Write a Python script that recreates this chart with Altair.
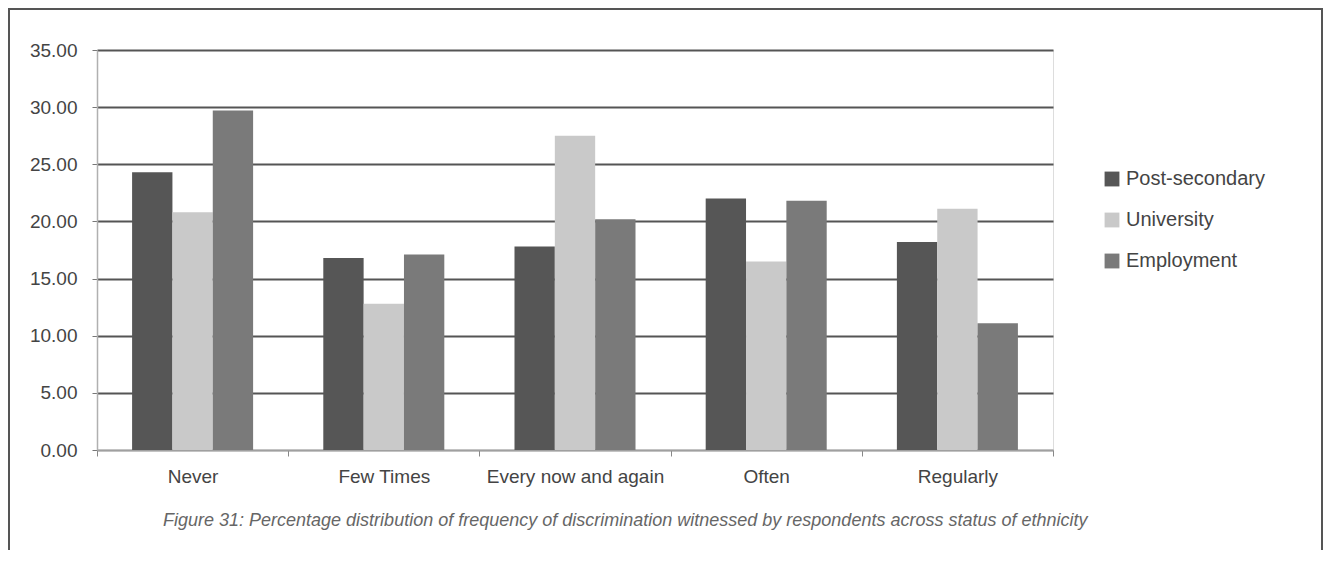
import altair as alt
import pandas as pd

categories = ["Never", "Few Times", "Every now and again", "Often", "Regularly"]
series = ["Post-secondary", "University", "Employment"]
post_secondary = [24.3, 16.8, 17.8, 22.0, 18.2]
university = [20.8, 12.8, 27.5, 16.5, 21.1]
employment = [29.7, 17.1, 20.2, 21.8, 11.1]
y_ticks = [0, 5, 10, 15, 20, 25, 30, 35]
colors = ["#565656", "#c9c9c9", "#7a7a7a"]
caption = ("Figure 31: Percentage distribution of frequency of discrimination "
           "witnessed by respondents across status of ethnicity")

rows = []
for name, vals in zip(series, [post_secondary, university, employment]):
    for c, v in zip(categories, vals):
        rows.append({"category": c, "series": name, "value": v})
df = pd.DataFrame(rows)

FONT = "Liberation Sans"
W, H = 956, 400

bars = alt.Chart(df).mark_bar().encode(
    x=alt.X("category:N", sort=categories, title=None,
            scale=alt.Scale(paddingInner=0, paddingOuter=0),
            axis=alt.Axis(labelAngle=0, labelFontSize=19, labelColor="#444444",
                          labelFont=FONT, labelPadding=11, tickBand="extent",
                          labelLimit=400, labelOverlap=False,
                          tickSize=6, tickColor="#888888", domainColor="#a0a0a0",
                          domainWidth=1.5, grid=False)),
    xOffset=alt.XOffset("series:N", sort=series,
                        scale=alt.Scale(paddingInner=0, paddingOuter=0.87)),
    y=alt.Y("value:Q", title=None,
            scale=alt.Scale(domain=[0, 35], nice=False),
            axis=alt.Axis(values=y_ticks, format=".2f", labelFontSize=19,
                          labelColor="#444444", labelFont=FONT, labelPadding=15,
                          tickSize=5, tickColor="#777777", domainColor="#b0b0b0",
                          domainWidth=1.5, gridWidth=2,
                          gridColor=alt.condition("datum.value == 0", alt.value("#a0a0a0"), alt.value("#555555")))),
    color=alt.Color("series:N", sort=series, title=None,
                    scale=alt.Scale(domain=series, range=colors),
                    legend=alt.Legend(orient="none", legendX=1005, legendY=119,
                                      symbolType="square", symbolSize=220,
                                      symbolStrokeWidth=0, labelFontSize=20,
                                      labelFont=FONT, labelColor="#444444",
                                      rowPadding=21, labelOffset=4)),
)

one = pd.DataFrame({"a": [0]})

border = alt.Chart(one).mark_rect(fill=None, stroke="#555555", strokeWidth=2).encode(
    x=alt.value(-88), x2=alt.value(1225), y=alt.value(-41), y2=alt.value(620)
)

cap = alt.Chart(one).mark_text(
    text=caption, align="left", baseline="middle", font=FONT,
    fontStyle="italic", fontSize=18, color="#666666"
).encode(x=alt.value(66), y=alt.value(471))

chart = alt.layer(bars, cap, border).properties(
    width=W, height=H,
    autosize=alt.AutoSizeParams(type="none"),
    padding={"left": 89, "top": 42, "right": 270, "bottom": 100},
).configure_view(stroke=None).configure(background="white")

chart.save("out.html", embed_options={"renderer": "svg", "actions": False})
